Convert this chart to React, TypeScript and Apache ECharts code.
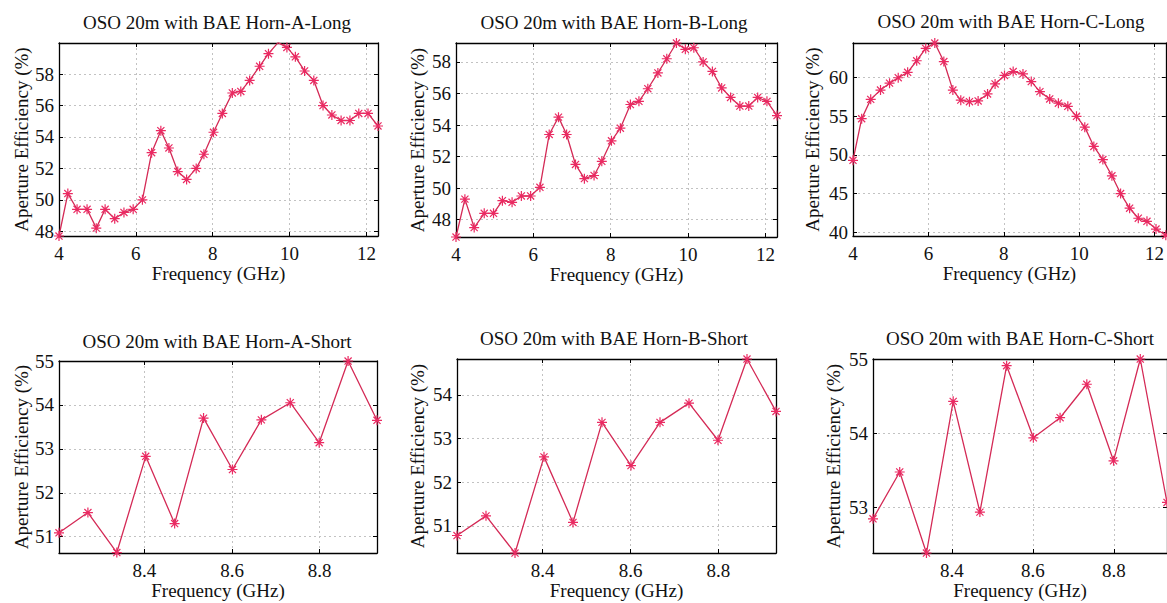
import React, { useEffect, useRef } from "react";
import * as echarts from "echarts";

// ---- data ----
const longFreq = [4.0, 4.23, 4.47, 4.73, 4.97, 5.2, 5.45, 5.69, 5.93, 6.17, 6.41, 6.65, 6.86, 7.09, 7.32, 7.57, 7.77, 8.02, 8.25, 8.51, 8.73, 8.96, 9.22, 9.45, 9.7, 9.93, 10.15, 10.39, 10.63, 10.87, 11.1, 11.34, 11.57, 11.8, 12.04, 12.3];
const shortFreq = [8.205, 8.271, 8.337, 8.403, 8.469, 8.535, 8.601, 8.667, 8.733, 8.799, 8.865, 8.931];

const aLong = [47.7, 50.4, 49.4, 49.4, 48.2, 49.4, 48.8, 49.2, 49.4, 50.0, 53.0, 54.4, 53.3, 51.8, 51.3, 52.0, 52.9, 54.3, 55.5, 56.8, 56.9, 57.6, 58.5, 59.3, 60.0, 59.7, 59.1, 58.2, 57.6, 56.0, 55.4, 55.05, 55.05, 55.5, 55.5, 54.7];
const bLong = [46.9, 49.3, 47.5, 48.4, 48.4, 49.2, 49.1, 49.5, 49.5, 50.05, 53.4, 54.5, 53.4, 51.5, 50.6, 50.8, 51.7, 53.0, 53.8, 55.3, 55.5, 56.3, 57.3, 58.2, 59.2, 58.8, 58.9, 58.0, 57.4, 56.35, 55.75, 55.2, 55.2, 55.75, 55.5, 54.6];
const cLong = [49.3, 54.7, 57.2, 58.4, 59.3, 60.0, 60.7, 62.2, 63.8, 64.5, 62.1, 58.4, 57.1, 56.9, 57.0, 57.9, 59.2, 60.3, 60.8, 60.5, 59.5, 58.2, 57.25, 56.7, 56.3, 55.0, 53.6, 51.1, 49.4, 47.3, 45.0, 43.1, 41.8, 41.4, 40.4, 39.6];
const aShort = [51.09, 51.55, 50.64, 52.83, 51.3, 53.7, 52.53, 53.66, 54.05, 53.14, 55.0, 53.65];
const bShort = [50.78, 51.23, 50.38, 52.58, 51.08, 53.37, 52.38, 53.37, 53.81, 52.96, 54.82, 53.62];
const cShort = [52.85, 53.48, 52.39, 54.43, 52.94, 54.91, 53.94, 54.21, 54.66, 53.63, 55.0, 53.07];

const titles = [
  "OSO 20m with BAE Horn-A-Long",
  "OSO 20m with BAE Horn-B-Long",
  "OSO 20m with BAE Horn-C-Long",
  "OSO 20m with BAE Horn-A-Short",
  "OSO 20m with BAE Horn-B-Short",
  "OSO 20m with BAE Horn-C-Short",
];

const longXTicks = [4, 6, 8, 10, 12];
const shortXTicks = [8.4, 8.6, 8.8];
const abLongYTicks = [48, 50, 52, 54, 56, 58];
const cLongYTicks = [40, 45, 50, 55, 60];
const aShortYTicks = [51, 52, 53, 54, 55];
const bShortYTicks = [51, 52, 53, 54];
const cShortYTicks = [53, 54, 55];

const xLabel = "Frequency (GHz)";
const yLabel = "Aperture Efficiency (%)";

// ---- panel descriptions (data references + ranges) ----
const panelData = [
  { x: longFreq, y: aLong, xr: [4, 12.3], yr: [47.7, 59.98], xt: longXTicks, yt: abLongYTicks },
  { x: longFreq, y: bLong, xr: [4, 12.3], yr: [46.9, 59.2], xt: longXTicks, yt: abLongYTicks },
  { x: longFreq, y: cLong, xr: [4, 12.3], yr: [39.5, 64.5], xt: longXTicks, yt: cLongYTicks },
  { x: shortFreq, y: aShort, xr: [8.205, 8.931], yr: [50.63, 55.0], xt: shortXTicks, yt: aShortYTicks },
  { x: shortFreq, y: bShort, xr: [8.205, 8.931], yr: [50.38, 54.82], xt: shortXTicks, yt: bShortYTicks },
  { x: shortFreq, y: cShort, xr: [8.205, 8.931], yr: [52.39, 55.0], xt: shortXTicks, yt: cShortYTicks },
];

// ---- layout ----
const layout = [
  { left: 59, top: 43, width: 319, height: 193, tx: 217, ty: 22, yGap: 28, xGap: 28 },
  { left: 456, top: 43, width: 321, height: 194, tx: 614, ty: 22, yGap: 29, xGap: 28 },
  { left: 853, top: 43, width: 317, height: 193, tx: 1011, ty: 21, yGap: 31, xGap: 28 },
  { left: 59, top: 361, width: 318, height: 192, tx: 217, ty: 341, yGap: 28, xGap: 26 },
  { left: 457, top: 359, width: 319, height: 194, tx: 614, ty: 338, yGap: 30, xGap: 26 },
  { left: 873, top: 359, width: 298, height: 194, tx: 1020, ty: 338, yGap: 30, xGap: 26 },
];

const FONT = "Liberation Serif";
const FS = 19;
const LINE_COLOR = "#d42a56";
const MARK_COLOR = "#ea2a62";
const FRAME = { color: "#000", width: 1.3 };
const STAR =
  "path://M0 8.8H20V11.2H0Z M8.8 0H11.2V20H8.8Z M2.05 3.75L3.75 2.05L17.95 16.25L16.25 17.95Z M16.25 2.05L17.95 3.75L3.75 17.95L2.05 16.25Z";

function buildOption() {
  const grid: any[] = [];
  const xAxis: any[] = [];
  const yAxis: any[] = [];
  const series: any[] = [];
  const graphic: any[] = [];

  panelData.forEach((p, i) => {
    const L = layout[i];
    grid.push({
      left: L.left,
      top: L.top,
      width: L.width,
      height: L.height,
      show: true,
      borderWidth: 0,
      backgroundColor: "#fff",
      containLabel: false,
    });
    const split = { show: true, lineStyle: { color: "#c2c2c2", width: 1, type: [2, 3] } };
    const tick = { show: true, inside: true, length: 4, lineStyle: { color: "#000" } };
    xAxis.push({
      type: "value",
      gridIndex: i,
      position: "bottom",
      min: p.xr[0],
      max: p.xr[1],
      axisLine: { show: true, onZero: false, lineStyle: FRAME },
      axisTick: { ...tick, customValues: p.xt },
      axisLabel: { show: true, customValues: p.xt, margin: 8, color: "#111", fontSize: FS, fontFamily: FONT },
      splitLine: split,
      name: xLabel,
      nameLocation: "middle",
      nameGap: L.xGap,
      nameTextStyle: { color: "#111", fontSize: FS, fontFamily: FONT },
      z: 3,
    });
    xAxis.push({
      type: "value",
      gridIndex: i,
      position: "top",
      min: p.xr[0],
      max: p.xr[1],
      axisLine: { show: true, onZero: false, lineStyle: FRAME },
      axisTick: { ...tick, customValues: p.xt },
      axisLabel: { show: false },
      splitLine: { show: false },
      z: 4,
    });
    yAxis.push({
      type: "value",
      gridIndex: i,
      position: "left",
      min: p.yr[0],
      max: p.yr[1],
      axisLine: { show: true, onZero: false, lineStyle: FRAME },
      axisTick: { ...tick, customValues: p.yt },
      axisLabel: { show: true, customValues: p.yt, margin: 5, color: "#111", fontSize: FS, fontFamily: FONT },
      splitLine: split,
      name: yLabel,
      nameLocation: "middle",
      nameRotate: 90,
      nameGap: L.yGap,
      nameTextStyle: { color: "#111", fontSize: FS, fontFamily: FONT },
      z: 3,
    });
    yAxis.push({
      type: "value",
      gridIndex: i,
      position: "right",
      min: p.yr[0],
      max: p.yr[1],
      axisLine: { show: true, onZero: false, lineStyle: FRAME },
      axisTick: { ...tick, customValues: p.yt },
      axisLabel: { show: false },
      splitLine: { show: false },
      z: 4,
    });
    series.push({
      type: "line",
      xAxisIndex: 2 * i,
      yAxisIndex: 2 * i,
      data: p.x.map((v, j) => [v, p.y[j]]),
      symbol: STAR,
      symbolSize: 10,
      showAllSymbol: true,
      itemStyle: { color: MARK_COLOR },
      lineStyle: { color: LINE_COLOR, width: 1.3 },
      silent: true,
      z: 5,
    });
    graphic.push({
      type: "text",
      x: L.tx,
      y: L.ty,
      style: {
        text: titles[i],
        fill: "#111",
        fontSize: FS,
        fontFamily: FONT,
        textAlign: "center",
        textVerticalAlign: "middle",
      },
    });
  });

  return {
    animation: false,
    backgroundColor: "#fff",
    textStyle: { fontFamily: FONT, fontSize: FS },
    grid,
    xAxis,
    yAxis,
    series,
    graphic,
  };
}

export default function App() {
  const ref = useRef<HTMLDivElement>(null);
  useEffect(() => {
    if (!ref.current) return;
    const chart = echarts.init(ref.current, undefined, { renderer: "svg" });
    chart.setOption(buildOption() as any);
    return () => chart.dispose();
  }, []);
  return (
    <div
      ref={ref}
      style={{ position: "absolute", left: 0, top: 0, width: 1167, height: 603, background: "#fff" }}
    />
  );
}
